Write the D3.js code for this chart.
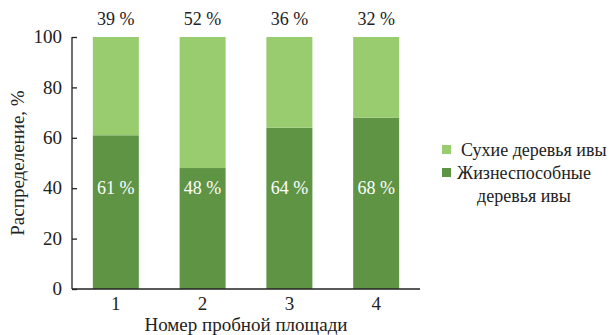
<!DOCTYPE html>
<html>
<head>
<meta charset="utf-8">
<script src="https://cdn.jsdelivr.net/npm/d3@7"></script>
<style>
  html, body { margin: 0; padding: 0; background: #fff; }
</style>
</head>
<body>
<svg id="fig" width="615" height="335"></svg>
<script>
// Share of living and dead willow trees on each sample plot, %
const plots = ["1", "2", "3", "4"];
const alive = [61, 48, 64, 68];
const dead = [39, 52, 36, 32];
const yTicks = [0, 20, 40, 60, 80, 100];
const seriesNames = ["Сухие деревья ивы", "Жизнеспособные деревья ивы"];
const colorDead = "#98cc6f";
const colorAlive = "#5e9443";
const FONT = '"Liberation Serif"';

const svg = d3.select("#fig");
const x0 = 72, x1 = 420, yTop = 37, yBot = 289;

const x = d3.scaleBand().domain(plots).range([x0, x1]).paddingInner(0.47).paddingOuter(0.24);
const y = d3.scaleLinear().domain([0, 100]).range([yBot, yTop]);

const rows = plots.map((p, i) => ({ plot: p, alive: alive[i], dead: dead[i] }));
const stack = d3.stack().keys(["alive", "dead"])(rows);
const colors = { alive: colorAlive, dead: colorDead };

function label(sel, size) {
  return sel.style("font-family", FONT, "important").style("font-size", size + "px", "important");
}

svg.append("g").selectAll("g").data(stack).join("g")
  .attr("fill", d => colors[d.key])
  .selectAll("rect").data(d => d).join("rect")
  .attr("x", d => x(d.data.plot))
  .attr("width", x.bandwidth())
  .attr("y", d => y(d[1]))
  .attr("height", d => y(d[0]) - y(d[1]));

// value labels: living share inside the bar, dead share above it
svg.append("g").selectAll("text").data(rows).join("text")
  .call(label, 18)
  .attr("x", d => x(d.plot) + x.bandwidth() / 2)
  .attr("y", y(40) + 6)
  .attr("text-anchor", "middle")
  .attr("fill", "#fff")
  .text(d => d.alive + " %");

svg.append("g").selectAll("text").data(rows).join("text")
  .call(label, 18)
  .attr("x", d => x(d.plot) + x.bandwidth() / 2)
  .attr("y", 25)
  .attr("text-anchor", "middle")
  .attr("fill", "#222")
  .text(d => d.dead + " %");

// axes
const yAxis = svg.append("g").attr("transform", `translate(${x0},0)`)
  .call(d3.axisLeft(y).tickValues(yTicks).tickSize(-5).tickPadding(10));
yAxis.select(".domain").attr("d", `M0,${yTop}V${yBot}`);

const xAxis = svg.append("g").attr("transform", `translate(0,${yBot})`)
  .call(d3.axisBottom(x).tickSize(0).tickPadding(8));
xAxis.select(".domain").attr("d", `M${x0},0H${x1}`);

svg.selectAll("g").attr("font-family", null).attr("font-size", null);
svg.selectAll(".tick text").call(label, 19).attr("fill", "#222");
svg.selectAll(".domain, .tick line").attr("stroke", "#222").attr("stroke-width", 1.3);
yAxis.selectAll(".tick text").attr("dy", "0.3em");

svg.append("text")
  .call(label, 19)
  .attr("x", 246)
  .attr("y", 331)
  .attr("text-anchor", "middle")
  .attr("fill", "#222")
  .text("Номер пробной площади");

svg.append("text")
  .call(label, 19)
  .attr("transform", `translate(24,${(yTop + yBot) / 2}) rotate(-90)`)
  .attr("text-anchor", "middle")
  .attr("fill", "#222")
  .text("Распределение, %");

// legend
const legend = svg.append("g");
legend.append("rect").attr("x", 442).attr("y", 145).attr("width", 9).attr("height", 9).attr("fill", colorDead);
legend.append("rect").attr("x", 442).attr("y", 168).attr("width", 9).attr("height", 9).attr("fill", colorAlive);
legend.append("text").call(label, 18).attr("x", 461).attr("y", 156).attr("fill", "#222").text(seriesNames[0]);
const t2 = legend.append("text").call(label, 18).attr("fill", "#222").attr("text-anchor", "middle");
t2.append("tspan").attr("x", 524).attr("y", 179).text("Жизнеспособные");
t2.append("tspan").attr("x", 524).attr("y", 202).text("деревья ивы");
</script>
</body>
</html>
